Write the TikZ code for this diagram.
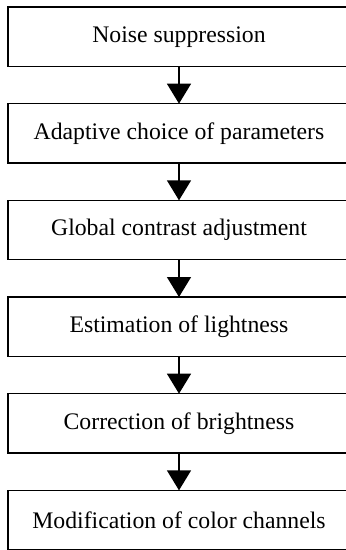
\documentclass[tikz,border=0pt]{standalone}
\usepackage{fontspec}
\setmainfont{Liberation Serif}
\usetikzlibrary{shapes,arrows.meta,positioning}

\begin{document}
\begin{tikzpicture}[x=0.75pt, y=-0.75pt, node distance=28pt,
    stage/.style={rectangle, draw, line width=1pt, outer sep=0pt, inner sep=0pt,
        minimum width=256.5pt, minimum height=44.5pt, font=\fontsize{17.8}{21}\selectfont},
    flow/.style={-{Triangle[width=18pt,length=15pt]}, line width=1pt}]
    \useasboundingbox (0,0) rectangle (346,550);

    \node (noise) [stage] at (179,36.67) {Noise suppression};
    \node (params) [stage, below=of noise] {Adaptive choice of parameters};
    \node (contrast) [stage, below=of params] {Global contrast adjustment};
    \node (lightness) [stage, below=of contrast] {Estimation of lightness};
    \node (brightness) [stage, below=of lightness] {Correction of brightness};
    \node (channels) [stage, below=of brightness] {Modification of color channels};

    \draw[flow] (noise) -- (params);
    \draw[flow] (params) -- (contrast);
    \draw[flow] (contrast) -- (lightness);
    \draw[flow] (lightness) -- (brightness);
    \draw[flow] (brightness) -- (channels);
\end{tikzpicture}
\end{document}
